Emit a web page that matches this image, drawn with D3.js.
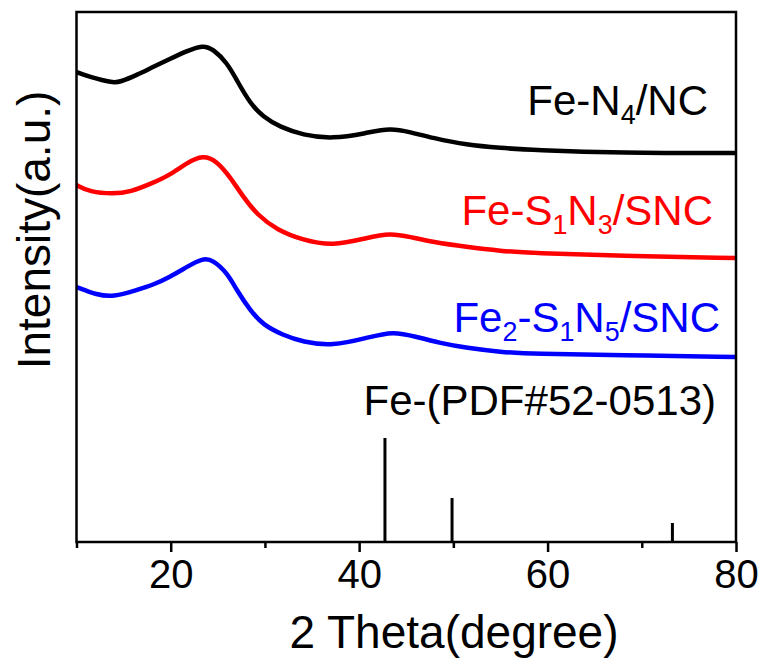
<!DOCTYPE html>
<html>
<head>
<meta charset="utf-8">
<script src="https://cdn.jsdelivr.net/npm/d3@7"></script>
<style>
  html, body { margin: 0; padding: 0; background: #fff; }
  svg { display: block; }
  text { font-family: "Liberation Sans", Arial, Helvetica, sans-serif; }
</style>
</head>
<body>
<svg id="chart" width="764" height="659"></svg>
<script>
// XRD patterns: 2θ (degree) vs. intensity (a.u., offset traces)
const feN4Angle = [10.0, 11.4, 13.9, 14.6, 16.4, 18.1, 19.9, 21.7, 23.4, 24.5, 26.0, 27.0, 28.4, 29.8, 31.6, 34.0, 37.2, 40.8, 43.3, 45.4, 47.8, 51.4, 55.0, 58.5, 67.7, 80.0];
const feN4Int   = [470, 465, 459, 460, 467, 475, 483, 491, 497, 493, 479, 462, 439, 425, 415, 407, 403, 409, 414, 410, 404, 397, 394, 392, 389, 389];

const feS1N3Angle = [10.0, 11.4, 13.9, 15.7, 18.1, 19.9, 21.7, 23.4, 24.9, 26.3, 27.7, 29.2, 31.3, 34.0, 37.2, 40.8, 43.3, 45.4, 47.8, 51.4, 55.0, 58.5, 67.7, 80.0];
const feS1N3Int   = [357, 350, 348, 350, 359, 367, 379, 387, 381, 365, 345, 327, 312, 302, 296, 304, 309, 305, 300, 295, 291, 289, 286, 284];

const fe2S1N5Angle = [10.0, 12.2, 13.9, 16.4, 18.1, 19.9, 21.7, 23.4, 24.5, 26.0, 27.0, 28.4, 29.8, 31.9, 34.0, 37.2, 40.8, 43.6, 46.1, 48.6, 51.4, 55.0, 58.5, 67.7, 80.0];
const fe2S1N5Int   = [255, 247, 245, 252, 257, 265, 275, 284, 282, 269, 252, 232, 217, 207, 200, 196, 204, 211, 205, 199, 194, 190, 188, 187, 185];

// Fe reference card PDF#52-0513: peak positions and relative heights
const pdfAngle = [42.74, 49.86, 73.25];
const pdfInt   = [104, 44, 19];

const xTicks = [20, 40, 60, 80];
const xMinorTicks = [10, 30, 50, 70];

const series = [
  { angle: feN4Angle, inten: feN4Int, color: "#000000" },
  { angle: feS1N3Angle, inten: feS1N3Int, color: "#ff0000" },
  { angle: fe2S1N5Angle, inten: fe2S1N5Int, color: "#0000ff" }
];

const svg = d3.select("#chart");
const margin = { left: 76.5, right: 28, top: 12, bottom: 117 };
const W = 764, H = 659;

const x = d3.scaleLinear().domain([10, 80]).range([margin.left, W - margin.right]);
const y = d3.scaleLinear().domain([0, 530]).range([H - margin.bottom, margin.top]);

const plot = svg.append("g");

// traces
const line = d3.line()
  .x(d => x(d[0]))
  .y(d => y(d[1]))
  .curve(d3.curveBasis);

series.forEach(s => {
  const pts = s.angle.map((a, i) => [a, s.inten[i]]);
  plot.append("path")
    .attr("d", line(pts))
    .attr("fill", "none")
    .attr("stroke", s.color)
    .attr("stroke-width", 4.5)
    .attr("stroke-linejoin", "round");
});

// reference sticks
plot.selectAll("line.stick")
  .data(pdfAngle.map((a, i) => [a, pdfInt[i]]))
  .join("line")
  .attr("class", "stick")
  .attr("x1", d => x(d[0])).attr("x2", d => x(d[0]))
  .attr("y1", y(0)).attr("y2", d => y(d[1]))
  .attr("stroke", "#000").attr("stroke-width", 3);

// frame
svg.append("rect")
  .attr("x", x(10)).attr("y", y(530))
  .attr("width", x(80) - x(10)).attr("height", y(0) - y(530))
  .attr("fill", "none").attr("stroke", "#000").attr("stroke-width", 2.5);

// bottom axis
const xAxis = svg.append("g")
  .attr("transform", `translate(0,${y(0)})`)
  .call(d3.axisBottom(x).tickValues(xTicks).tickSize(10).tickPadding(8).tickFormat(d3.format("d")));
xAxis.select(".domain").remove();
xAxis.selectAll(".tick line").attr("stroke", "#000").attr("stroke-width", 2.5);
xAxis.selectAll(".tick text")
  .attr("font-size", 40).attr("fill", "#000")
  .style("font-family", "'Liberation Sans', Arial, sans-serif");

const xMinor = svg.append("g")
  .attr("transform", `translate(0,${y(0)})`)
  .call(d3.axisBottom(x).tickValues(xMinorTicks).tickSize(6).tickFormat(""));
xMinor.select(".domain").remove();
xMinor.selectAll(".tick line").attr("stroke", "#000").attr("stroke-width", 2.5);

// axis titles
svg.append("text")
  .attr("x", 454).attr("y", 648)
  .attr("text-anchor", "middle").attr("font-size", 46)
  .text("2 Theta(degree)");

svg.append("text")
  .attr("transform", `translate(50,${(y(0) + y(530)) / 2 - 47}) rotate(-90)`)
  .attr("text-anchor", "middle").attr("font-size", 46)
  .text("Intensity(a.u.)");

// sample labels with subscripts
function label(parts, xr, yb, color, size) {
  const t = svg.append("text")
    .attr("x", xr).attr("y", yb)
    .attr("text-anchor", "end").attr("font-size", size).attr("fill", color);
  let shifted = false;
  parts.forEach(p => {
    const ts = t.append("tspan").text(p.t);
    if (p.sub) {
      ts.attr("font-size", size * 0.64).attr("dy", shifted ? 0 : 9);
      shifted = true;
    } else if (shifted) {
      ts.attr("dy", -9);
      shifted = false;
    }
  });
}

label([{ t: "Fe-N" }, { t: "4", sub: true }, { t: "/NC" }], 708, 115, "#000", 42);
label([{ t: "Fe-S" }, { t: "1", sub: true }, { t: "N" }, { t: "3", sub: true }, { t: "/SNC" }], 713, 225, "#ff0000", 42);
label([{ t: "Fe" }, { t: "2", sub: true }, { t: "-S" }, { t: "1", sub: true }, { t: "N" }, { t: "5", sub: true }, { t: "/SNC" }], 720, 332, "#0000ff", 42);
label([{ t: "Fe-(PDF#52-0513)" }], 716, 415, "#000", 42);
</script>
</body>
</html>
